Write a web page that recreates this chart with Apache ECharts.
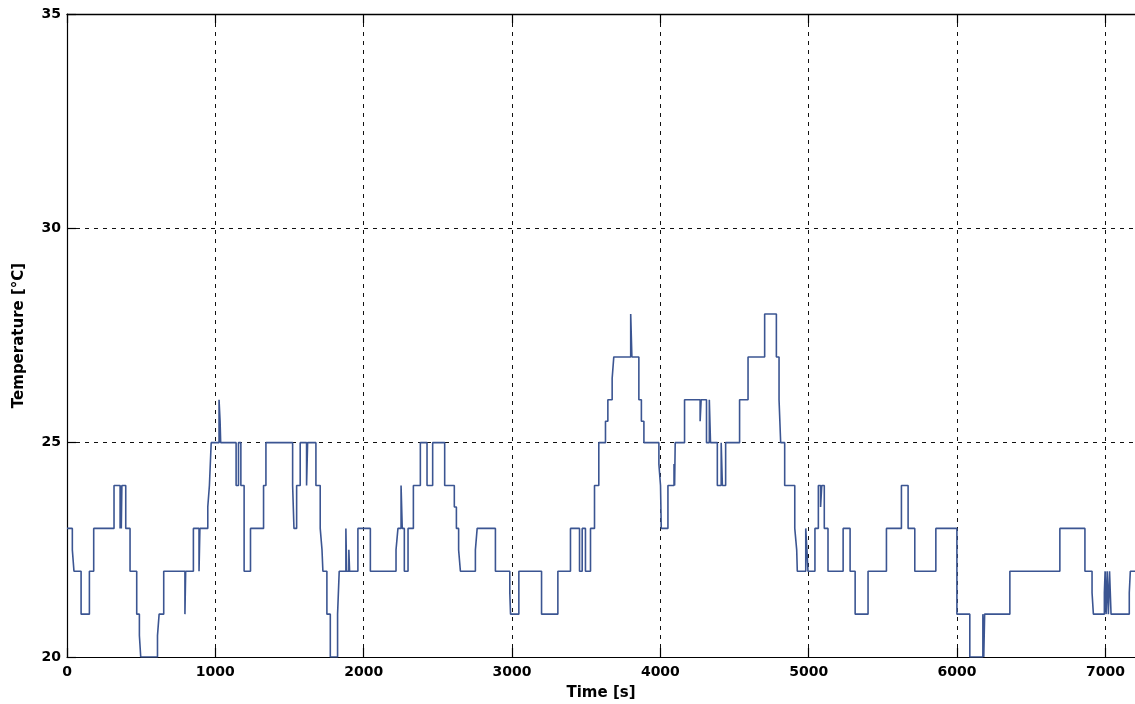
<!DOCTYPE html>
<html>
<head>
<meta charset="utf-8">
<title>Temperature log</title>
<script src="https://cdn.jsdelivr.net/npm/echarts@6/dist/echarts.min.js"></script>
<style>
  html, body { margin: 0; padding: 0; background: #fff; }
  #chart { width: 1135px; height: 704px; }
</style>
</head>
<body>
<div id="chart"></div>
<script>
// Logged sensor temperature: each value holds from its start time until the next one.
const times = [
  0, 36, 47, 95, 151, 180, 317, 358, 362, 366, 370, 396, 425, 470, 488, 497, 610, 621, 652,
  795, 800, 852, 890, 896, 949, 960, 972, 1025, 1032, 1036, 1140, 1156, 1172, 1194, 1237,
  1325, 1341, 1521, 1530, 1548, 1572, 1615, 1622, 1678, 1707, 1719, 1725, 1752, 1775,
  1824, 1835, 1880, 1885, 1900, 1905, 1961, 2045, 2218, 2231, 2252, 2260, 2274, 2299,
  2335, 2382, 2427, 2465, 2546, 2611, 2625, 2640, 2652, 2753, 2765, 2888, 2985, 2990,
  3046, 3199, 3309, 3394, 3455, 3473, 3495, 3529, 3556, 3585, 3630, 3646, 3675, 3686,
  3800, 3808, 3855, 3872, 3889, 3990, 4001, 4006, 4051, 4092, 4096, 4100, 4163, 4268,
  4275, 4311, 4330, 4338, 4384, 4410, 4418, 4440, 4534, 4591, 4703, 4782, 4800, 4811,
  4838, 4906, 4919, 4923, 4980, 4988, 4995, 5042, 5065, 5080, 5088, 5105, 5130, 5232,
  5279, 5313, 5400, 5524, 5625, 5670, 5715, 5857, 5999, 6086, 6174, 6180, 6186, 6356,
  6693, 6862, 6910, 6919, 6993, 6998, 7005, 7012, 7020, 7028, 7038, 7161, 7168, 7240
];
const temps = [
  23, 22.5, 22, 21, 22, 23, 24, 23, 24, 23, 24, 23, 22, 21, 20.5, 20, 20.5, 21, 22,
  21, 22, 23, 22, 23, 23.5, 24, 25, 26, 25.5, 25, 24, 25, 24, 22, 23,
  24, 25, 24, 23, 24, 25, 24, 25, 24, 23, 22.5, 22, 21, 20,
  21, 22, 23, 22, 22.5, 22, 23, 22, 22.5, 23, 24, 23, 22, 23,
  24, 25, 24, 25, 24, 23.5, 23, 22.5, 22, 22.5, 23, 22, 21.5, 21,
  22, 21, 22, 23, 22, 23, 22, 23, 24, 25, 25.5, 26, 26.5, 27,
  28, 27, 26, 25.5, 25, 24.5, 24, 23, 24, 24.5, 24, 25, 26, 25.5,
  26, 25, 26, 25, 24, 25, 24, 25, 26, 27, 28, 27, 26, 25,
  24, 23, 22.5, 22, 23, 22.5, 22, 23, 24, 23.5, 24, 23, 22, 23,
  22, 21, 22, 23, 24, 23, 22, 23, 21, 20, 21, 20, 21, 22,
  23, 22, 21.5, 21, 21.5, 22, 21, 22, 21, 22, 21, 21.5, 22, 22
];

const xTicks = [0, 1000, 2000, 3000, 4000, 5000, 6000, 7000];
const yTicks = [20, 25, 30, 35];

const points = times.map((t, i) => [t, temps[i]]);

const tickFont = { fontFamily: 'DejaVu Sans', fontWeight: 'bold', fontSize: 14, color: '#000' };
const gridDash = { color: '#111', width: 1, type: [4, 5] };

const chart = echarts.init(document.getElementById('chart'), null, { renderer: 'canvas' });
chart.setOption({
  animation: false,
  backgroundColor: '#fff',
  grid: { left: 67, right: -6, top: 14, bottom: 47, containLabel: false, outerBoundsMode: 'none' },
  xAxis: [
    {
      type: 'value',
      min: 0,
      max: 7240,
      interval: 1000,
      position: 'bottom',
      name: 'Time [s]',
      nameLocation: 'middle',
      nameGap: 29,
      nameTextStyle: {
        fontFamily: 'DejaVu Sans', fontWeight: 'bold', fontSize: 15, color: '#000',
        padding: [0, 6, 0, 0]
      },
      axisLine: { show: true, lineStyle: { color: '#000', width: 1.2 } },
      axisTick: { show: true, inside: true, length: 9, lineStyle: { color: '#000', width: 1.2 } },
      axisLabel: {
        ...tickFont,
        margin: 8,
        formatter: v => (xTicks.includes(v) ? String(v) : '')
      },
      splitLine: { show: true, lineStyle: gridDash }
    },
    {
      type: 'value',
      min: 0,
      max: 7240,
      interval: 1000,
      position: 'top',
      axisLine: { show: true, lineStyle: { color: '#000', width: 1.4 } },
      axisTick: { show: true, inside: true, length: 9, lineStyle: { color: '#000', width: 1.2 } },
      axisLabel: { show: false },
      splitLine: { show: false }
    }
  ],
  yAxis: {
    type: 'value',
    min: 20,
    max: 35,
    interval: 5,
    name: 'Temperature [°C]',
    nameLocation: 'middle',
    nameGap: 40,
    nameTextStyle: { fontFamily: 'DejaVu Sans', fontWeight: 'bold', fontSize: 15, color: '#000' },
    axisLine: { show: true, lineStyle: { color: '#000', width: 1.2 } },
    axisTick: { show: true, inside: true, length: 9, lineStyle: { color: '#000', width: 1.2 } },
    axisLabel: {
      ...tickFont,
      margin: 6,
      formatter: v => (yTicks.includes(v) ? String(v) : '')
    },
    splitLine: { show: true, lineStyle: gridDash }
  },
  series: [
    {
      type: 'line',
      step: 'end',
      xAxisIndex: 0,
      data: points,
      showSymbol: false,
      symbol: 'none',
      lineStyle: { color: '#3b5592', width: 1.6 },
      z: 3
    }
  ]
});
</script>
</body>
</html>
